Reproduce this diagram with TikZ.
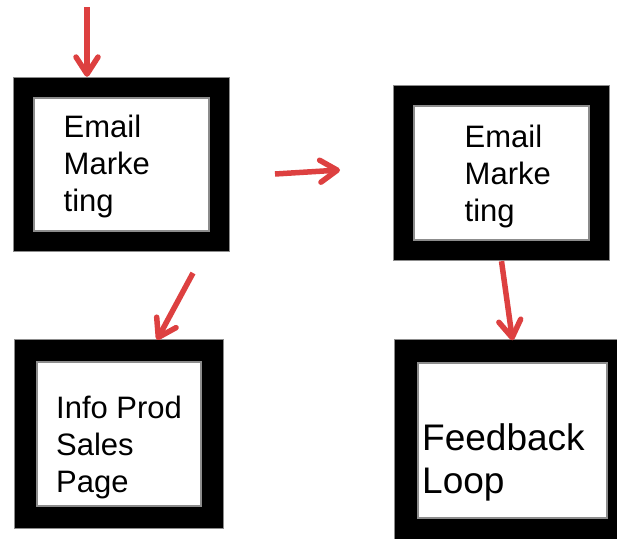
\documentclass[tikz,border=0pt]{standalone}
\usepackage{fontspec}
\setmainfont{Liberation Sans}
\usetikzlibrary{arrows.meta, positioning}

\definecolor{arrowred}{RGB}{221,64,64}

\begin{document}
\begin{tikzpicture}[
          x=1pt, y=-1pt,
          frame/.style={draw=black!45, line width=1.3pt, double=black,
            double distance=#1, fill=white, inner sep=0pt, outer sep=11pt},
          frame/.default=19pt,
          lbl/.style={anchor=north west, inner sep=0pt, align=left,
            font=\fontsize{31}{37}\selectfont},
          flow/.style={draw=arrowred, line width=5.5pt,
            -{Straight Barb[length=17pt, width=22pt, round]}}
        ]
        \useasboundingbox (0,0) rectangle (617,538);

        % framed boxes
        \node[frame, minimum width=195.4pt, minimum height=153.4pt] (mail1) at (121.5,164.5) {};
        \node[frame, minimum width=195.4pt, minimum height=154.4pt] (mail2) at (501.5,173) {};
        \node[frame=21pt, minimum width=186.4pt, minimum height=166.4pt] (prod) at (119,434) {};
        \node[frame=22pt, minimum width=212.4pt, minimum height=178.4pt] (loop) at (512.5,440.5) {};

        \node[lbl] (t1) at (63.5,115) {Email\\Marke\\ting};
        \node[lbl] (t2) at (464.5,125) {Email\\Marke\\ting};
        \node[lbl] (t3) at (56,396) {Info Prod\\Sales\\Page};
        \node[lbl, font=\fontsize{37}{43}\selectfont] (t4) at (422,423) {Feedback\\Loop};

        % arrows
        \coordinate (in) at (87,7);
        \coordinate (d1) at (193,273);
        \coordinate (h1) at (275,174);
        \coordinate (h2) at (340,170);
        \draw[flow] (in) -- (in |- mail1.north);
        \draw[flow] (h1) -- (h2);
        \draw[flow] (d1) -- ([xshift=38pt]prod.north);
        \draw[flow] (mail2.south) -- (loop.north);
\end{tikzpicture}
\end{document}
